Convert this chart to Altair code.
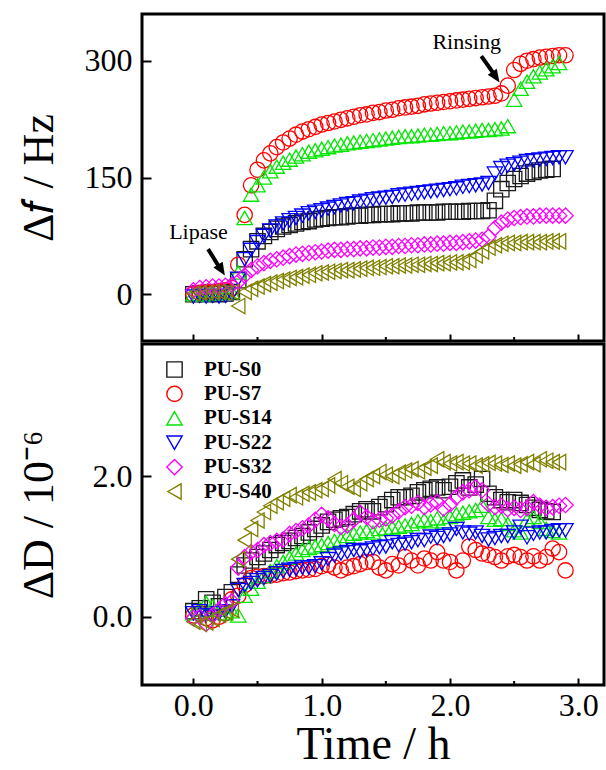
import altair as alt
import pandas as pd

# ---------------- data ----------------
T = [0.00, 0.05, 0.10, 0.15, 0.20, 0.25, 0.30, 0.35, 0.40, 0.45,
     0.50, 0.55, 0.60, 0.65, 0.70, 0.75, 0.80, 0.85, 0.90, 0.95,
     1.00, 1.05, 1.10, 1.15, 1.20, 1.25, 1.30, 1.35, 1.40, 1.45,
     1.50, 1.55, 1.60, 1.65, 1.70, 1.75, 1.80, 1.85, 1.90, 1.95,
     2.00, 2.05, 2.10, 2.15, 2.20, 2.25, 2.30, 2.35, 2.40, 2.45,
     2.50, 2.55, 2.60, 2.65, 2.70, 2.75, 2.80, 2.85, 2.90]

SERIES = ["PU-S0", "PU-S7", "PU-S14", "PU-S22", "PU-S32", "PU-S40"]
COLORS = ["#1a1a1a", "#ff0000", "#00e600", "#0000ff", "#ff00ff", "#808000"]
SHAPES = ["square", "circle", "triangle-up", "triangle-down", "diamond", "triangle-left"]

# frequency shift (Hz)
df_s0 = [0, 1, 0, 1, 0, 1, 3, 18, 45, 58, 68, 75, 80, 84, 87, 89, 91, 93, 94, 96,
         97, 98, 99, 99, 100, 101, 101, 102, 102, 103, 103, 103, 104, 104, 104, 105, 105, 105, 105, 106,
         106, 106, 106, 107, 107, 107, 108, 120, 135, 143, 148, 152, 155, 157, 159, 160, 161]
df_s7 = [0, 2, 3, 3, 4, 5, 8, 38, 102, 140, 160, 172, 181, 189, 195, 200, 205, 209, 212, 215,
         218, 220, 222, 224, 226, 228, 230, 231, 233, 234, 236, 237, 239, 240, 241, 242, 244, 245, 246, 247,
         248, 249, 250, 251, 252, 253, 254, 255, 258, 268, 288, 296, 300, 302, 304, 305, 306, 307, 307]
df_s14 = [0, 0, 0, 1, 1, 2, 3, 28, 98, 128, 140, 150, 158, 164, 169, 173, 177, 180, 183, 185,
          187, 189, 191, 192, 194, 195, 196, 197, 198, 199, 200, 201, 202, 203, 203, 204, 205, 205, 206, 207,
          207, 208, 209, 209, 210, 211, 211, 212, 213, 216, 250, 264, 273, 280, 285, 289, 293, 297]
df_s22 = [-3, -2, -3, -2, -3, -2, 0, 20, 45, 57, 67, 75, 82, 87, 91, 95, 98, 101, 104, 106,
          108, 110, 112, 114, 116, 117, 119, 120, 122, 123, 124, 125, 127, 128, 129, 130, 131, 132, 133, 134,
          135, 136, 138, 139, 140, 141, 143, 155, 162, 165, 167, 169, 171, 172, 173, 174, 175, 176, 176]
df_s32 = [5, 8, 9, 10, 10, 11, 12, 16, 24, 31, 36, 40, 43, 45, 47, 49, 51, 52, 53, 54,
          55, 56, 57, 57, 58, 58, 59, 59, 60, 60, 61, 61, 62, 62, 63, 63, 64, 64, 65, 65,
          66, 66, 67, 68, 69, 70, 74, 85, 92, 96, 98, 99, 100, 100, 101, 101, 101, 101, 101]
df_s40 = [1, 2, 2, 3, 3, 2, 3, -15, 3, 7, 10, 13, 15, 17, 19, 21, 22, 24, 25, 27,
          28, 29, 30, 31, 31, 32, 33, 34, 34, 35, 36, 36, 37, 37, 38, 38, 39, 39, 40, 40,
          41, 41, 42, 44, 50, 55, 60, 63, 65, 66, 66, 67, 67, 67, 67, 68, 68, 68]

# dissipation shift (1e-6)
dd_s0 = [0.08, 0.12, 0.25, 0.20, 0.15, 0.28, 0.35, 0.60, 0.73, 0.80, 0.85, 0.90, 0.95, 1.02, 1.05, 1.08, 1.12, 1.15, 1.20, 1.25,
         1.30, 1.35, 1.38, 1.40, 1.42, 1.46, 1.50, 1.53, 1.50, 1.56, 1.60, 1.66, 1.70, 1.70, 1.72, 1.77, 1.80, 1.82, 1.84, 1.80,
         1.85, 1.90, 1.94, 1.84, 1.88, 1.96, 1.75, 1.70, 1.66, 1.63, 1.66, 1.62, 1.59, 1.55, 1.52, 1.50, 1.49]
dd_s7 = [0.02, 0.05, -0.02, -0.05, 0.00, 0.05, 0.25, 0.30, 0.45, 0.55, 0.57, 0.58, 0.59, 0.60, 0.62, 0.63, 0.65, 0.66, 0.67, 0.68,
         0.72, 0.74, 0.70, 0.66, 0.70, 0.72, 0.75, 0.78, 0.78, 0.70, 0.66, 0.75, 0.73, 0.85, 0.80, 0.73, 0.83, 0.80, 0.92, 0.80,
         0.78, 0.66, 0.80, 1.00, 0.95, 0.90, 0.88, 0.85, 0.80, 0.86, 0.88, 0.85, 0.80, 0.86, 0.80, 0.85, 0.97, 0.92, 0.66]
dd_s14 = [0.05, 0.10, 0.20, 0.15, 0.10, 0.05, 0.08, 0.02, 0.30, 0.40, 0.50, 0.58, 0.65, 0.72, 0.78, 0.84, 0.90, 0.95, 0.98, 1.00,
          1.02, 1.05, 1.08, 1.10, 1.15, 1.18, 1.20, 1.22, 1.20, 1.25, 1.26, 1.27, 1.28, 1.30, 1.32, 1.36, 1.38, 1.36, 1.40, 1.36,
          1.42, 1.46, 1.48, 1.50, 1.52, 1.58, 1.42, 1.38, 1.39, 1.32, 1.23, 1.20, 1.38, 1.42, 1.35, 1.25, 1.22, 1.20]
dd_s22 = [0.05, 0.08, 0.02, 0.00, 0.05, 0.08, 0.15, 0.38, 0.45, 0.48, 0.52, 0.55, 0.58, 0.62, 0.65, 0.67, 0.68, 0.70, 0.70, 0.72,
          0.76, 0.82, 0.87, 0.90, 0.92, 0.95, 0.93, 0.95, 0.97, 0.99, 1.00, 1.06, 1.02, 1.04, 1.06, 1.09, 1.09, 1.14, 1.12, 1.15,
          1.17, 1.25, 1.20, 1.18, 1.20, 1.15, 1.10, 1.12, 1.15, 1.15, 1.20, 1.28, 1.13, 1.18, 1.20, 1.20, 1.22, 1.23, 1.23]
dd_s32 = [-0.02, 0.00, -0.10, 0.02, 0.10, 0.18, 0.22, 0.70, 0.85, 0.92, 0.95, 1.02, 1.05, 1.08, 1.10, 1.18, 1.22, 1.26, 1.30, 1.38,
          1.45, 1.40, 1.32, 1.28, 1.30, 1.38, 1.48, 1.42, 1.36, 1.38, 1.40, 1.44, 1.50, 1.56, 1.58, 1.62, 1.56, 1.60, 1.63, 1.54,
          1.60, 1.70, 1.77, 1.80, 1.84, 1.80, 1.60, 1.56, 1.58, 1.53, 1.55, 1.52, 1.55, 1.63, 1.58, 1.55, 1.56, 1.58, 1.59]
dd_s40 = [-0.07, -0.10, -0.08, -0.03, 0.03, 0.07, 0.10, 0.82, 1.09, 1.25, 1.37, 1.49, 1.58, 1.63, 1.68, 1.73, 1.70, 1.75, 1.77, 1.80,
          1.82, 1.87, 1.96, 1.90, 1.85, 1.82, 1.90, 1.96, 2.00, 2.06, 2.02, 2.00, 2.05, 2.08, 2.10, 2.07, 2.12, 2.15, 2.24, 2.20,
          2.18, 2.20, 2.18, 2.18, 2.15, 2.17, 2.19, 2.18, 2.16, 2.18, 2.15, 2.17, 2.20, 2.17, 2.24, 2.22, 2.20, 2.20]

X_TICKS = [0, 1, 2, 3]
X_MINOR = [0.5, 1.5, 2.5]
F_TICKS = [0, 150, 300]
D_TICKS = [0, 2]

# annotations (data coordinates)
ANN_TEXT = ["Rinsing", "Lipase"]
ANN_T = [2.13, 0.04]
ANN_V = [324, 80]
ARROW_T0 = [2.244, 0.115]
ARROW_V0 = [306, 58]
ARROW_T1 = [2.351, 0.213]
ARROW_V1 = [281, 32]
TIP_T = [2.386, 0.246]
TIP_V = [272, 24]
TIP_ANGLE = [146, 148]

# ---------------- tables ----------------
def long_table(cols):
    rows = []
    for k, (name, vals) in enumerate(zip(SERIES, cols)):
        for i, v in enumerate(vals):
            rows.append({"t": T[i], "v": v, "series": name, "k": k})
    return pd.DataFrame(rows)

top_df = long_table([df_s0, df_s7, df_s14, df_s22, df_s32, df_s40])
bot_df = long_table([dd_s0, dd_s7, dd_s14, dd_s22, dd_s32, dd_s40])
minor_df = pd.DataFrame({"t": X_MINOR})
ann_df = pd.DataFrame({"t": ANN_T, "v": ANN_V, "label": ANN_TEXT})
arrow_df = pd.DataFrame({"t": ARROW_T0, "v": ARROW_V0, "t1": ARROW_T1, "v1": ARROW_V1})
tip_df = pd.DataFrame({"t": TIP_T, "v": TIP_V, "a": TIP_ANGLE})

W = 462
H_TOP = 327
H_BOT = 341
FONT = "Liberation Serif"
MSIZE = 235

x_scale = alt.Scale(domain=[-0.4, 3.2], nice=False, zero=False)
f_scale = alt.Scale(domain=[-60, 360], nice=False, zero=False)
d_scale = alt.Scale(domain=[-0.97, 3.88], nice=False, zero=False)
color_scale = alt.Scale(domain=SERIES, range=COLORS)
shape_scale = alt.Scale(domain=SERIES, range=SHAPES)


def x_axis(show_labels):
    return alt.Axis(values=X_TICKS, labels=show_labels, format=".1f",
                    title="Time / h" if show_labels else None,
                    offset=-7, tickSize=7, tickWidth=2, domain=False, grid=False,
                    labelPadding=5, titlePadding=1, titleFontSize=46)


def y_axis(title, values, fmt):
    return alt.Axis(values=values, format=fmt, title=title, offset=-9, tickSize=9, tickWidth=2,
                    domain=False, grid=False, labelPadding=10, titleX=-112, titleBaseline="middle",
                    titleFontSize=44)


TOP_X = x_axis(False)
TOP_Y = y_axis("Δ𝑓 / Hz", F_TICKS, "d")
BOT_X = x_axis(True)
BOT_Y = y_axis("ΔD / 10⁻⁶", D_TICKS, ".1f")


def minor_layer(h, xax):
    return alt.Chart(minor_df).mark_rule(color="black", strokeWidth=2).encode(
        x=alt.X("t:Q", scale=x_scale, axis=xax),
        y=alt.value(h), y2=alt.value(h - 4))


legend = alt.Legend(title=None, orient="none", legendX=22, legendY=15, labelFont=FONT,
                    labelFontWeight="bold", labelFontSize=21, labelColor="black",
                    symbolSize=MSIZE, symbolStrokeWidth=1.4, labelOffset=19, rowPadding=2.4, padding=0)

top_points = alt.Chart(top_df).mark_point(filled=False, size=MSIZE, strokeWidth=1.3, opacity=1).encode(
    x=alt.X("t:Q", scale=x_scale, axis=TOP_X),
    y=alt.Y("v:Q", scale=f_scale, axis=TOP_Y),
    color=alt.Color("series:N", scale=color_scale, legend=None),
    shape=alt.Shape("series:N", scale=shape_scale, legend=None),
    order=alt.Order("k:Q"),
)

ann_text = alt.Chart(ann_df).mark_text(font=FONT, fontSize=22, color="black", baseline="middle").encode(
    x=alt.X("t:Q", scale=x_scale, axis=TOP_X),
    y=alt.Y("v:Q", scale=f_scale, axis=TOP_Y),
    text="label:N",
)
arrow_line = alt.Chart(arrow_df).mark_rule(color="black", strokeWidth=4).encode(
    x=alt.X("t:Q", scale=x_scale, axis=TOP_X),
    y=alt.Y("v:Q", scale=f_scale, axis=TOP_Y),
    x2="t1:Q", y2="v1:Q",
)
arrow_head = alt.Chart(tip_df).mark_point(shape="M0,0L0.42,1L-0.42,1Z", size=676, filled=True,
                                          color="black", opacity=1).encode(
    x=alt.X("t:Q", scale=x_scale, axis=TOP_X),
    y=alt.Y("v:Q", scale=f_scale, axis=TOP_Y),
    angle=alt.Angle("a:Q", scale=None),
)

top = alt.layer(top_points, minor_layer(H_TOP, TOP_X), arrow_line, arrow_head, ann_text).properties(
    width=W, height=H_TOP)

bot_points = alt.Chart(bot_df).mark_point(filled=False, size=MSIZE, strokeWidth=1.3, opacity=1).encode(
    x=alt.X("t:Q", scale=x_scale, axis=BOT_X),
    y=alt.Y("v:Q", scale=d_scale, axis=BOT_Y),
    color=alt.Color("series:N", scale=color_scale, legend=legend),
    shape=alt.Shape("series:N", scale=shape_scale, legend=legend),
    order=alt.Order("k:Q"),
)

bottom = alt.layer(bot_points, minor_layer(H_BOT, BOT_X)).properties(width=W, height=H_BOT)

chart = alt.vconcat(top, bottom, spacing=-5).resolve_legend(
    color="independent", shape="independent"
).configure_view(
    stroke="black", strokeWidth=3
).configure_axis(
    labelFont=FONT, titleFont=FONT, labelFontSize=32, labelColor="black", titleColor="black",
    tickColor="black", titleFontWeight="normal"
).properties(
    padding={"left": 15, "top": 12, "right": 0, "bottom": 0},
    background="white",
)

chart.save("out.html", embed_options={"renderer": "svg", "actions": False})
